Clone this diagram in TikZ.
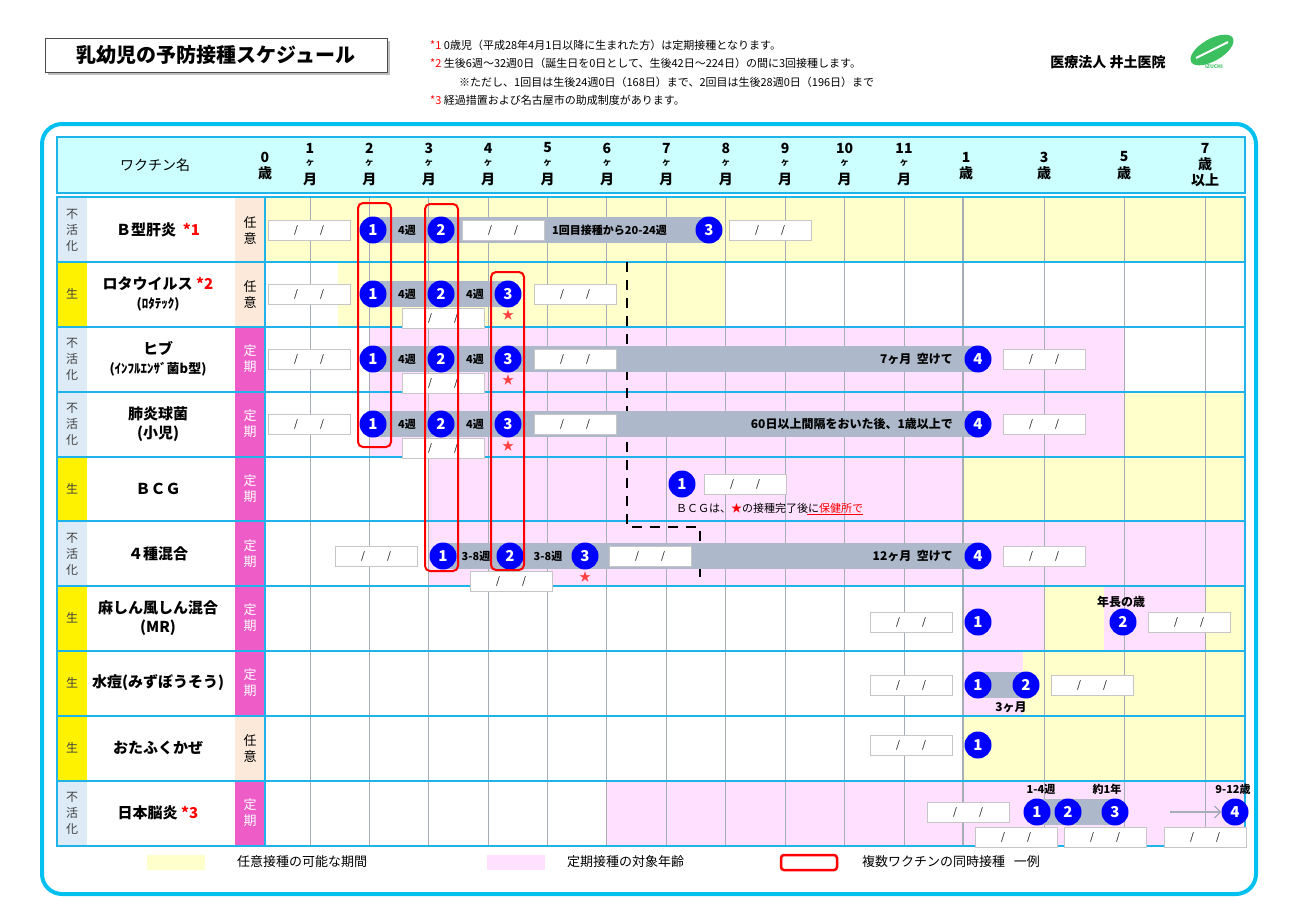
\documentclass[tikz,border=0pt]{standalone}
\usepackage{fontspec}
\setmainfont{Noto Sans CJK JP}
\usetikzlibrary{calc,arrows.meta}
\definecolor{cyanb}{HTML}{1EB4EA}
\definecolor{framec}{HTML}{00C0F0}
\definecolor{hdr}{HTML}{CCFFFF}
\definecolor{yel}{HTML}{FFFFCC}
\definecolor{pnk}{HTML}{FFE0FF}
\definecolor{barg}{HTML}{ADB9CA}
\definecolor{gridg}{HTML}{A6ADB4}
\definecolor{fuka}{HTML}{DDEBF7}
\definecolor{nini}{HTML}{FCE9DA}
\definecolor{teiki}{HTML}{EE5CC8}
\definecolor{logoc}{HTML}{3CC060}
\newcommand\dsl{/\hspace{22pt}/}
\newcommand\fs[1]{\fontsize{#1}{#1}\selectfont}
\tikzset{
 num/.style={circle,fill=blue,text=white,inner sep=0pt,minimum size=27pt,font=\fs{15}\bfseries},
 dbox/.style={draw=gray!45,fill=white,minimum width=82pt,minimum height=20pt,inner sep=0pt,font=\fs{10}},
 gaptxt/.style={font=\fs{11}\bfseries,inner sep=0pt},
 longtxt/.style={font=\fs{12}\bfseries,inner sep=0pt,anchor=east},
 redbox/.style={draw=red,line width=2pt,rounded corners=5pt},
 starn/.style={text=red!75!white,font=\fs{12},inner sep=0pt},
 hd/.style={font=\fs{14}\bfseries,inner sep=0pt},
 hdk/.style={font=\fs{9}\bfseries,inner sep=0pt},
 typ/.style={font=\fontsize{12}{16}\selectfont,text=black!75,align=center,inner sep=0pt},
 knd/.style={font=\fontsize{13}{16}\selectfont,align=center,inner sep=0pt},
 nm/.style={font=\fontsize{15}{19}\selectfont\bfseries,align=center,inner sep=0pt},
 note/.style={font=\fs{11},anchor=west,inner sep=0pt},
 bar/.style={fill=barg},
}
\begin{document}
\begin{tikzpicture}[x=1pt,y=-1pt]
\useasboundingbox (0,0) rectangle (1300,919);
% title
\fill[gray!50] (48,41) rectangle (390,75);
\draw[fill=white,draw=black!70] (45,38) rectangle (387,72);
\node[font=\fs{20}\bfseries] (title) at (216,55) {乳幼児の予防接種スケジュール};
\node[note] (n1) at (430,45) {\textcolor{red}{*1} 0歳児（平成28年4月1日以降に生まれた方）は定期接種となります。};
\node[note] (n2) at (430,63) {\textcolor{red}{*2} 生後6週～32週0日（誕生日を0日として、生後42日～224日）の間に3回接種します。};
\node[note] (n3) at (459,82) {※ただし、1回目は生後24週0日（168日）まで、2回目は生後28週0日（196日）まで};
\node[note] (n4) at (430,100) {\textcolor{red}{*3} 経過措置および名古屋市の助成制度があります。};
\node[font=\fs{14}\bfseries] (clinic) at (1108,62) {医療法人\ 井土医院};
\fill[logoc,rotate around={30:(1212,50)}] (1212,50) ellipse (24pt and 11pt);
\draw[white,line width=2pt] (1196,58) -- (1228,42);
\node[font=\fs{5}\bfseries,text=logoc] (logo) at (1214,67) {IZUCHI};
% frame
\draw[framec,line width=4pt,rounded corners=20pt] (42,124) rectangle (1256,894);
% header
\draw[cyanb,fill=hdr,line width=1.5pt] (57,137) rectangle (1245,193);
\node[font=\fs{14}] (hname) at (155,165) {ワクチン名};
\node[hd] (h0a) at (265,157) {0};
\node[hd] (h0b) at (265,173) {歳};
\foreach \m in {1,...,11}{
 \node[hd] (hm\m a) at ({310+59.4*(\m-1)},148) {\m};
 \node[hdk] (hm\m b) at ({310+59.4*(\m-1)},163) {ヶ};
 \node[hd] (hm\m c) at ({310+59.4*(\m-1)},179) {月};
}
\foreach \v/\x in {1/966,3/1044,5/1124}{
 \node[hd] (hy\v a) at (\x,157) {\v};
 \node[hd] (hy\v b) at (\x,173) {歳};
}
\node[hd] (hy7a) at (1205,148) {7};
\node[hd] (hy7b) at (1205,164) {歳};
\node[hd] (hy7c) at (1205,180) {以上};
% backgrounds
\fill[yel] (265,197) rectangle (1245,262);
\fill[yel] (338,262) rectangle (725,327);
\fill[pnk] (369,327) rectangle (1124,392);
\fill[pnk] (369,392) rectangle (1124,457);
\fill[yel] (1124,392) rectangle (1245,457);
\fill[pnk] (428,457) rectangle (963,521);
\fill[yel] (963,457) rectangle (1245,521);
\fill[pnk] (428,521) rectangle (1245,586);
\fill[pnk] (963,586) rectangle (1044,651);
\fill[yel] (1044,586) rectangle (1104,651);
\fill[pnk] (1104,586) rectangle (1205,651);
\fill[yel] (1205,586) rectangle (1245,651);
\fill[pnk] (963,651) rectangle (1023,716);
\fill[yel] (1023,651) rectangle (1245,716);
\fill[yel] (963,716) rectangle (1245,781);
\fill[pnk] (606,781) rectangle (1245,846);
% left columns
\foreach \t/\b/\k in {197/262/1,262/327/0,327/392/1,392/457/1,457/521/0,521/586/1,586/651/0,651/716/0,716/781/0,781/846/1}{
 \ifnum\k=1 \fill[fuka] (57,\t) rectangle (87,\b);\else\fill[yellow] (57,\t) rectangle (87,\b);\fi
}
\foreach \t/\b/\k in {197/262/1,262/327/1,327/392/0,392/457/0,457/521/0,521/586/0,586/651/0,651/716/0,716/781/1,781/846/0}{
 \ifnum\k=1 \fill[nini] (235,\t) rectangle (265,\b);\else\fill[teiki] (235,\t) rectangle (265,\b);\fi
}
% grid
\foreach \x in {310,369,428,488,547,606,666,725,785,844,904,1044,1124,1205}{
 \draw[gridg,line width=0.8pt] (\x,197) -- (\x,846);
}
\draw[gridg,line width=2.5pt] (963,197) -- (963,846);
\foreach \y in {262,327,392,457,521,586,651,716,781}{
 \draw[cyanb,line width=1.5pt] (57,\y) -- (1245,\y);
}
\draw[cyanb,line width=1.5pt] (57,197) rectangle (1245,846);
\draw[cyanb,line width=1.5pt] (265,197) -- (265,846);
% type / kind / names
\foreach \y/\k [count=\i] in {230/1,294/0,359/1,424/1,489/0,554/1,618/0,683/0,748/0,813/1}{
 \ifnum\k=1 \node[typ] (ty\i) at (72,\y) {不\\活\\化};\else\node[typ] (ty\i) at (72,\y) {生};\fi
}
\foreach \y/\k [count=\i] in {230/1,294/1,359/0,424/0,489/0,554/0,618/0,683/0,748/1,813/0}{
 \ifnum\k=1 \node[knd] (kd\i) at (250,\y) {任\\意};\else\node[knd,text=white] (kd\i) at (250,\y) {定\\期};\fi
}
\node[nm] (nm1) at (158,230) {Ｂ型肝炎\ \ \textcolor{red}{*1}};
\node[nm] (nm2) at (158,294) {ロタウイルス\ \textcolor{red}{*2}\\{\fs{13}(ﾛﾀﾃｯｸ)}};
\node[nm] (nm3) at (158,359) {ヒブ\\{\fs{13}(ｲﾝﾌﾙｴﾝｻﾞ菌b型)}};
\node[nm] (nm4) at (158,424) {肺炎球菌\\(小児)};
\node[nm] (nm5) at (158,489) {ＢＣＧ};
\node[nm] (nm6) at (158,554) {４種混合};
\node[nm] (nm7) at (158,618) {麻しん風しん混合\\(MR)};
\node[nm] (nm8) at (158,683) {水痘(みずぼうそう)};
\node[nm] (nm9) at (158,748) {おたふくかぜ};
\node[nm] (nm10) at (158,813) {日本脳炎\ \textcolor{red}{*3}};
% dashed line
\coordinate (da) at (627,262); \coordinate (db) at (627,527);
\coordinate (dc) at (700,527); \coordinate (dd) at (700,578);
\draw[line width=2.5pt,dash pattern=on 10pt off 8pt] (da) -- (db) -- (dc) -- (dd);
% row 1
\fill[bar] (373,217) rectangle (709,243);
\node[dbox] (b1a) at (309,230) {\dsl};
\node[num] (r1c1) at (373,230) {1};
\node[gaptxt] (g11) at (407,230) {4週};
\node[num] (r1c2) at (441,230) {2};
\node[dbox] (b1b) at (503,230) {\dsl};
\node[gaptxt,anchor=west] (g12) at (552,230) {1回目接種から20-24週};
\node[num] (r1c3) at (709,230) {3};
\node[dbox] (b1c) at (770,230) {\dsl};
% row 2
\fill[bar] (373,281) rectangle (508,307);
\node[dbox] (b2a) at (309,294) {\dsl};
\node[num] (r2c1) at (373,294) {1};
\node[gaptxt] (g21) at (407,294) {4週};
\node[num] (r2c2) at (441,294) {2};
\node[gaptxt] (g22) at (475,294) {4週};
\node[num] (r2c3) at (508,294) {3};
\node[dbox] (b2b) at (575,294) {\dsl};
\node[dbox] (b2c) at (443,318) {\dsl};
\node[starn] (s2) at (508,315) {★};
% row 3
\fill[bar] (373,346) rectangle (978,372);
\node[dbox] (b3a) at (309,359) {\dsl};
\node[num] (r3c1) at (373,359) {1};
\node[gaptxt] (g31) at (407,359) {4週};
\node[num] (r3c2) at (441,359) {2};
\node[gaptxt] (g32) at (475,359) {4週};
\node[num] (r3c3) at (508,359) {3};
\node[dbox] (b3b) at (575,359) {\dsl};
\node[longtxt] (g33) at (953,359) {7ヶ月\ \ 空けて};
\node[num] (r3c4) at (978,359) {4};
\node[dbox] (b3c) at (1044,359) {\dsl};
\node[dbox] (b3d) at (443,383) {\dsl};
\node[starn] (s3) at (508,380) {★};
% row 4
\fill[bar] (373,411) rectangle (978,437);
\node[dbox] (b4a) at (309,424) {\dsl};
\node[num] (r4c1) at (373,424) {1};
\node[gaptxt] (g41) at (407,424) {4週};
\node[num] (r4c2) at (441,424) {2};
\node[gaptxt] (g42) at (475,424) {4週};
\node[num] (r4c3) at (508,424) {3};
\node[dbox] (b4b) at (575,424) {\dsl};
\node[longtxt] (g43) at (953,424) {60日以上間隔をおいた後、1歳以上で};
\node[num] (r4c4) at (978,424) {4};
\node[dbox] (b4c) at (1044,424) {\dsl};
\node[dbox] (b4d) at (443,448) {\dsl};
\node[starn] (s4) at (508,446) {★};
% row 5
\node[num] (r5c1) at (682,484) {1};
\node[dbox] (b5a) at (745,484) {\dsl};
\node[font=\fs{11},anchor=west,inner sep=0pt] (bcgt) at (676,508) {ＢＣＧは、\textcolor{red}{★}の接種完了後に\textcolor{red}{保健所で}};
\draw[red,line width=0.6pt] ($(bcgt.south east)+(-56,1)$) -- ($(bcgt.south east)+(0,1)$);
% row 6
\fill[bar] (443,543) rectangle (978,569);
\node[dbox] (b6a) at (376,556) {\dsl};
\node[num] (r6c1) at (443,556) {1};
\node[gaptxt] (g61) at (476,556) {3-8週};
\node[num] (r6c2) at (510,556) {2};
\node[gaptxt] (g62) at (548,556) {3-8週};
\node[num] (r6c3) at (585,556) {3};
\node[dbox] (b6b) at (650,556) {\dsl};
\node[longtxt] (g63) at (953,556) {12ヶ月\ \ 空けて};
\node[num] (r6c4) at (978,556) {4};
\node[dbox] (b6c) at (1044,556) {\dsl};
\node[dbox] (b6d) at (511,581) {\dsl};
\node[starn] (s6) at (585,577) {★};
% red boxes
\draw[redbox] (358,203) rectangle (391,447);
\draw[redbox] (425,204) rectangle (458,571);
\draw[redbox] (491,272) rectangle (524,570);
% row 7
\node[dbox] (b7a) at (911,622) {\dsl};
\node[num] (r7c1) at (978,622) {1};
\node[gaptxt,font=\fs{12}\bfseries] (g71) at (1121,602) {年長の歳};
\node[num] (r7c2) at (1123,622) {2};
\node[dbox] (b7b) at (1189,622) {\dsl};
% row 8
\fill[bar] (978,672) rectangle (1026,698);
\node[dbox] (b8a) at (911,685) {\dsl};
\node[num] (r8c1) at (978,685) {1};
\node[num] (r8c2) at (1026,685) {2};
\node[gaptxt,font=\fs{12}\bfseries] (g81) at (1011,707) {3ヶ月};
\node[dbox] (b8b) at (1092,685) {\dsl};
% row 9
\node[dbox] (b9a) at (911,745) {\dsl};
\node[num] (r9c1) at (978,745) {1};
% row 10
\fill[bar] (1037,799) rectangle (1115,825);
\node[dbox] (b10a) at (968,812) {\dsl};
\node[num] (r10c1) at (1037,812) {1};
\node[num] (r10c2) at (1068,812) {2};
\node[num] (r10c3) at (1115,812) {3};
\node[gaptxt] (g101) at (1041,789) {1-4週};
\node[gaptxt] (g102) at (1107,789) {約1年};
\node[gaptxt] (g103) at (1233,789) {9-12歳};
\coordinate (arr) at (1170,812);
\node[num] (r10c4) at (1235,812) {4};
\draw[-{Straight Barb[length=6pt]},gridg,line width=1.2pt] (arr) -- (r10c4.west);
\node[dbox] (b10b) at (1016,837) {\dsl};
\node[dbox] (b10c) at (1105,837) {\dsl};
\node[dbox] (b10d) at (1205,837) {\dsl};
% legend
\fill[yel] (147,855) rectangle (205,870);
\node[note,font=\fs{13}] (l1) at (237,862) {任意接種の可能な期間};
\fill[pnk] (487,855) rectangle (545,870);
\node[note,font=\fs{13}] (l2) at (567,862) {定期接種の対象年齢};
\draw[red,line width=2.5pt,rounded corners=3pt] (781,855) rectangle (837,870);
\node[note,font=\fs{13}] (l3) at (862,862) {複数ワクチンの同時接種\ \ \ 一例};
\end{tikzpicture}
\end{document}
